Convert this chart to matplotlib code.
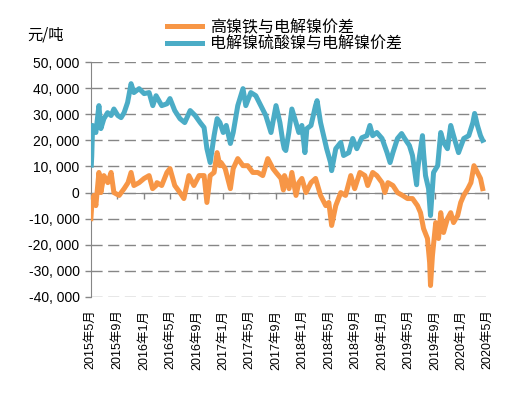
import matplotlib
matplotlib.use('Agg')
import matplotlib.pyplot as plt
import pandas as pd

plt.rcParams['font.family'] = ['Liberation Sans', 'Noto Sans CJK SC']

# 高镍铁与电解镍价差 (元/吨)
nfe_dates = ['2015-05-02', '2015-05-07', '2015-05-16', '2015-05-25', '2015-06-08', '2015-06-17',
             '2015-07-01', '2015-07-19', '2015-08-03', '2015-08-16', '2015-09-09', '2015-10-02',
             '2015-10-20', '2015-11-03', '2015-11-16', '2015-12-10', '2016-01-02', '2016-01-25',
             '2016-02-10', '2016-02-26', '2016-03-01', '2016-03-23', '2016-04-16', '2016-04-30',
             '2016-05-22', '2016-06-15', '2016-07-03', '2016-07-26', '2016-08-18', '2016-09-11',
             '2016-10-04', '2016-10-17', '2016-11-01', '2016-11-19', '2016-12-03', '2016-12-16',
             '2016-12-21', '2017-01-09', '2017-02-02', '2017-02-15', '2017-03-08', '2017-04-01',
             '2017-04-23', '2017-05-16', '2017-06-08', '2017-07-01', '2017-07-24', '2017-08-17',
             '2017-08-31', '2017-09-23', '2017-10-04', '2017-10-09', '2017-10-30', '2017-11-12',
             '2017-12-01', '2017-12-14', '2017-12-28', '2018-01-16', '2018-02-08', '2018-03-01',
             '2018-03-24', '2018-04-17', '2018-05-01', '2018-05-14', '2018-06-02', '2018-06-25',
             '2018-07-17', '2018-08-10', '2018-08-28', '2018-09-21', '2018-10-14', '2018-10-27',
             '2018-11-19', '2018-12-08', '2019-01-01', '2019-01-14', '2019-01-28', '2019-02-20',
             '2019-03-13', '2019-04-05', '2019-04-28', '2019-05-21', '2019-06-13', '2019-06-27',
             '2019-07-11', '2019-07-29', '2019-08-08', '2019-08-12', '2019-08-21', '2019-09-05',
             '2019-09-18', '2019-09-28', '2019-10-11', '2019-10-29', '2019-11-13', '2019-11-26',
             '2019-12-15', '2019-12-29', '2020-01-12', '2020-01-31', '2020-02-14', '2020-02-28',
             '2020-03-15', '2020-03-29', '2020-04-08']
nfe_values = [-10000, -3800, -1100, -5000, 7700, 0,
              6500, 3800, 7700, 0, -1100, 1500,
              3800, 7700, 2700, 3800, 5400, 6500,
              1500, 2700, 3800, 2700, 7700, 9200,
              2700, 0, -2300, 6500, 2700, 6500,
              6500, -3800, 6500, 7700, 15300, 10300,
              11500, 9200, 1500, 9200, 13000, 10300,
              10300, 7700, 7700, 6500, 13000, 9200,
              7700, 5400, 1000, 6500, 1500, 7700,
              -1100, 3800, 5400, 0, 3800, 5400,
              -1100, -5000, -3800, -12600, -5000, 0,
              -1100, 6500, 1500, 7700, 6500, 2700,
              7700, 6500, 3800, 0, 3800, 2700,
              0, -1100, -2300, -2300, -5000, -7700,
              -13800, -17600, -26800, -35600, -24100, -11500,
              -17600, -7700, -15300, -10000, -7700, -11500,
              -8800, -3800, -1100, 1500, 3800, 10300,
              7700, 5400, 1500]

# 电解镍硫酸镍与电解镍价差 (元/吨)
ns_dates = ['2015-05-04', '2015-05-06', '2015-05-10', '2015-05-25', '2015-06-08', '2015-06-17',
            '2015-07-01', '2015-07-18', '2015-08-03', '2015-08-16', '2015-09-03', '2015-09-18',
            '2015-10-02', '2015-10-18', '2015-11-03', '2015-11-16', '2015-12-10', '2016-01-02',
            '2016-01-25', '2016-02-11', '2016-02-26', '2016-03-23', '2016-04-16', '2016-04-30',
            '2016-05-22', '2016-06-15', '2016-07-07', '2016-08-01', '2016-08-24', '2016-09-16',
            '2016-10-04', '2016-10-17', '2016-11-01', '2016-11-19', '2016-12-03', '2016-12-16',
            '2016-12-31', '2017-01-14', '2017-02-02', '2017-02-15', '2017-03-08', '2017-04-01',
            '2017-04-14', '2017-05-07', '2017-05-30', '2017-06-22', '2017-07-15', '2017-08-08',
            '2017-08-31', '2017-09-18', '2017-10-02', '2017-10-08', '2017-10-15', '2017-10-29',
            '2017-11-12', '2017-12-01', '2017-12-14', '2017-12-28', '2018-01-11', '2018-01-20',
            '2018-02-08', '2018-03-01', '2018-03-08', '2018-03-24', '2018-04-07', '2018-04-21',
            '2018-05-09', '2018-05-14', '2018-06-02', '2018-06-25', '2018-07-08', '2018-08-01',
            '2018-08-19', '2018-09-07', '2018-09-30', '2018-10-23', '2018-11-06', '2018-11-19',
            '2018-12-08', '2019-01-01', '2019-01-24', '2019-02-07', '2019-02-20', '2019-03-13',
            '2019-04-01', '2019-04-15', '2019-05-07', '2019-05-21', '2019-06-09', '2019-06-13',
            '2019-06-18', '2019-07-06', '2019-07-11', '2019-07-20', '2019-08-03', '2019-08-12',
            '2019-08-26', '2019-09-14', '2019-09-28', '2019-10-11', '2019-10-29', '2019-11-13',
            '2019-11-26', '2019-12-19', '2020-01-12', '2020-02-04', '2020-02-23', '2020-03-02',
            '2020-03-15', '2020-03-29', '2020-04-08']
ns_values = [10500, 14000, 25700, 23000, 33300, 24500,
             28300, 30600, 29500, 32000, 29500, 28700,
             30600, 34500, 41700, 38300, 39800, 37900,
             38300, 33300, 37100, 33300, 34000, 36000,
             31400, 28300, 26800, 31400, 29500, 26800,
             24900, 16800, 11500, 21800, 28300, 26800,
             23000, 25700, 18800, 23000, 33300, 39800,
             33300, 38300, 37100, 33300, 29500, 23000,
             33300, 26800, 19200, 16800, 16100, 23000,
             32000, 26800, 23000, 25700, 15300, 24500,
             25700, 33300, 35200, 26800, 21800, 16800,
             11500, 8400, 16800, 19200, 14200, 15300,
             20700, 16800, 21000, 21800, 25700, 21800,
             23000, 20700, 15300, 11500, 15300, 20700,
             22600, 20700, 18000, 14200, 3000, 8000,
             11500, 21800, 15300, 6500, 1500, -8800,
             7700, 10300, 23000, 19200, 16800, 25700,
             21800, 15300, 20700, 21800, 26800, 30300,
             25700, 21800, 20000]

tick_dates = pd.date_range('2015-05-01', '2020-05-01', freq='4MS')
tick_labels = [f'{d.year}年{d.month}月' for d in tick_dates]
y_ticks = list(range(-40000, 50001, 10000))

orange = '#F79646'
blue = '#4BACC6'
gray = '#868686'

fig = plt.figure(figsize=(5.21, 3.96), dpi=100)
ax = fig.add_axes([0.174, 0.25, 0.762, 0.5934])

ax.plot(pd.to_datetime(nfe_dates), nfe_values, color=orange, lw=3.6, label='高镍铁与电解镍价差',
        solid_joinstyle='round', zorder=3)
ax.plot(pd.to_datetime(ns_dates), ns_values, color=blue, lw=3.6, label='电解镍硫酸镍与电解镍价差',
        solid_joinstyle='round', zorder=3)

ax.set_xlim(tick_dates[0], tick_dates[-1])
ax.set_ylim(-40000, 50000)

# y axis
ax.set_yticks(y_ticks)
ax.set_yticklabels(['0' if v == 0 else f'{v:,}'.replace(',', ', ') for v in y_ticks])
ax.yaxis.grid(True, color=gray, linestyle=(0, (8, 4)), linewidth=1)
ax.tick_params(axis='y', length=4, width=1, color=gray, labelsize=10, pad=4)
for s in ['top', 'right']:
    ax.spines[s].set_visible(False)
ax.spines['left'].set_color(gray)

# x axis line at zero with tick marks, labels at bottom
ax.spines['bottom'].set_position(('data', 0))
ax.spines['bottom'].set_color(gray)
ax.spines['bottom'].set_zorder(2)
ax.set_xticks(tick_dates)
ax.tick_params(axis='x', length=4, width=1, color=gray, labelbottom=False)

sec = ax.secondary_xaxis('bottom')
sec.set_xticks(tick_dates, tick_labels, rotation=90)
sec.tick_params(axis='x', length=0, labelsize=9, pad=9)
sec.spines['bottom'].set_visible(False)

fig.text(0.052, 0.912, '元/吨', fontsize=11, ha='left', va='center', family='Noto Sans CJK SC')

fig.legend(loc='upper left', bbox_to_anchor=(0.32, 0.952), frameon=False, borderpad=0,
           borderaxespad=0, handlelength=2.2, handletextpad=0.5, labelspacing=0.0,
           prop={'family': 'Noto Sans CJK SC', 'size': 11.5})

fig.savefig('out.png', dpi=100)
